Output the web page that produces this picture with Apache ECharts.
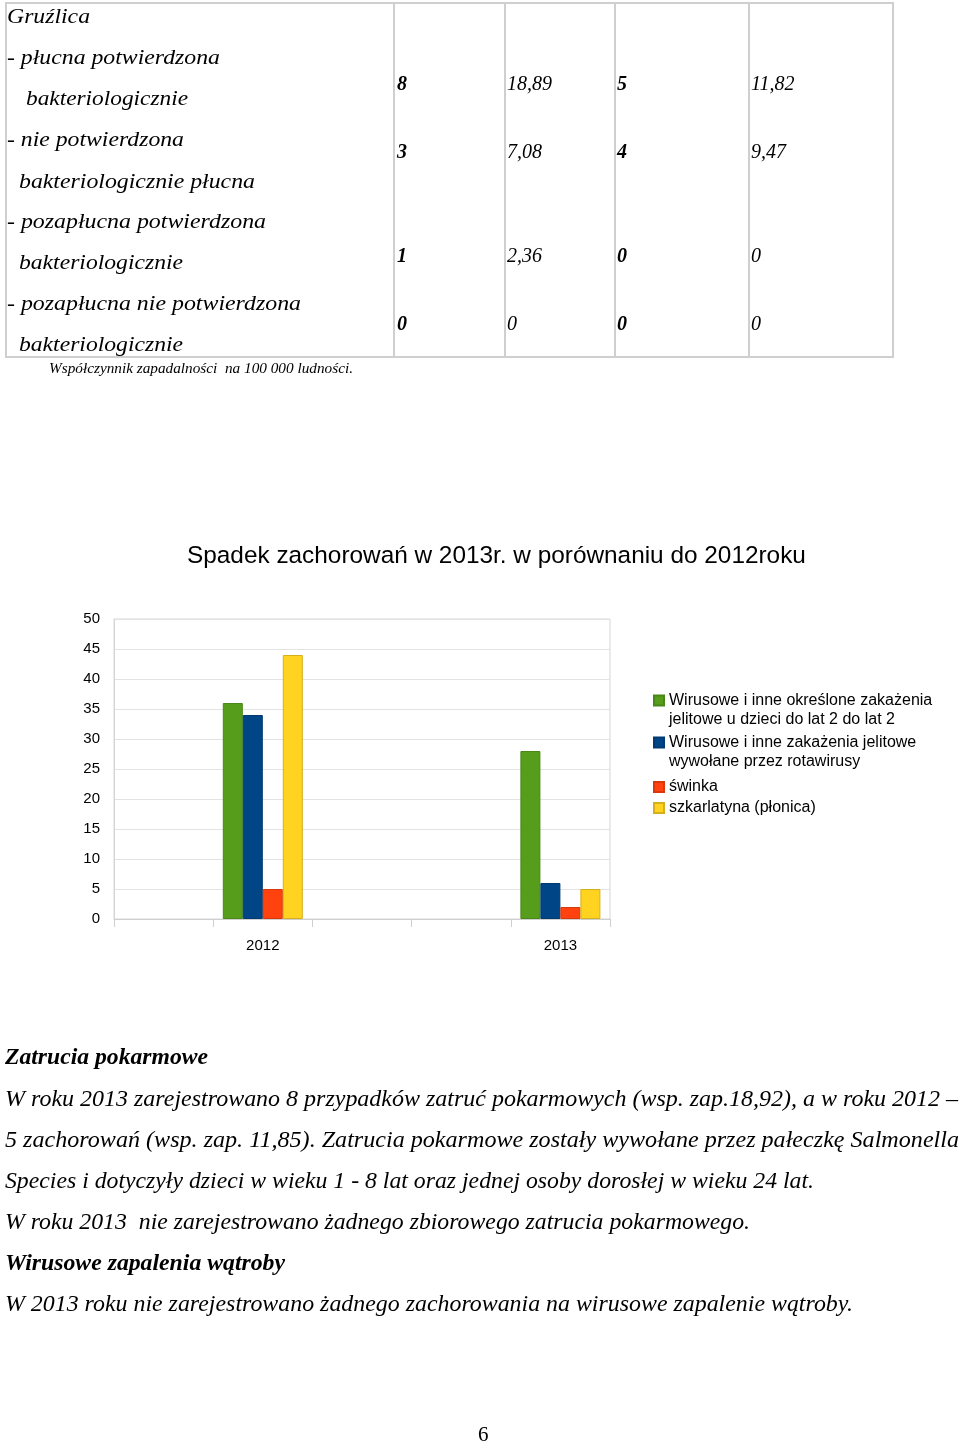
<!DOCTYPE html>
<html>
<head>
<meta charset="utf-8">
<script src="https://cdn.jsdelivr.net/npm/echarts@6/dist/echarts.min.js"></script>
<style>
  html, body { margin: 0; padding: 0; background: #ffffff; }
  #page { position: relative; width: 960px; height: 1444px; overflow: hidden; background: #fff; }
  #chart { position: absolute; left: 0; top: 0; width: 960px; height: 1444px; z-index: 0; }
  .t { position: absolute; white-space: pre; font-family: "Liberation Serif", "Times New Roman", serif;
       font-style: italic; color: #000; transform-origin: 0 0; z-index: 2; }
  .b { font-weight: bold; }
  .rule { position: absolute; background: #cfcfcf; z-index: 2; }
</style>
</head>
<body>
<div id="page">
  <div id="chart"></div>
</div>
<script>
// ---------------- DATA ----------------
// Tuberculosis table
const tbLabelLines = ['Gruźlica', '- płucna potwierdzona', 'bakteriologicznie', '- nie potwierdzona',
  'bakteriologicznie płucna', '- pozapłucna potwierdzona', 'bakteriologicznie',
  '- pozapłucna nie potwierdzona', 'bakteriologicznie'];
const tbCases2013 = ['8', '3', '1', '0'];
const tbRate2013 = ['18,89', '7,08', '2,36', '0'];
const tbCases2012 = ['5', '4', '0', '0'];
const tbRate2012 = ['11,82', '9,47', '0', '0'];
const tbNote = 'Współczynnik zapadalności  na 100 000 ludności.';

// Chart
const chartTitle = 'Spadek zachorowań w 2013r. w porównaniu do 2012roku';
const categories = ['', '2012', '', '', '2013'];
const seriesNames = [
  'Wirusowe i inne określone zakażenia jelitowe u dzieci do lat 2 do lat 2',
  'Wirusowe i inne zakażenia jelitowe wywołane przez rotawirusy',
  'świnka',
  'szkarlatyna (płonica)'
];
const valuesIntestinal = [null, 36, null, null, 28];
const valuesRotavirus = [null, 34, null, null, 6];
const valuesMumps = [null, 5, null, null, 2];
const valuesScarlet = [null, 44, null, null, 5];
const yMin = 0, yMax = 50, yStep = 5;

// Text below chart
const paragraphs = [
  { text: 'Zatrucia pokarmowe', bold: true },
  { text: 'W roku 2013 zarejestrowano 8 przypadków zatruć pokarmowych (wsp. zap.18,92), a w roku 2012 –', bold: false },
  { text: '5 zachorowań (wsp. zap. 11,85). Zatrucia pokarmowe zostały wywołane przez pałeczkę Salmonella', bold: false },
  { text: 'Species i dotyczyły dzieci w wieku 1 - 8 lat oraz jednej osoby dorosłej w wieku 24 lat.', bold: false },
  { text: 'W roku 2013  nie zarejestrowano żadnego zbiorowego zatrucia pokarmowego.', bold: false },
  { text: 'Wirusowe zapalenia wątroby', bold: true },
  { text: 'W 2013 roku nie zarejestrowano żadnego zachorowania na wirusowe zapalenie wątroby.', bold: false }
];
const pageNumber = '6';

// ---------------- LAYOUT (positions / styles) ----------------
const page = document.getElementById('page');
function addText(txt, x, yc, fs, opts) {
  opts = opts || {};
  const d = document.createElement('div');
  d.className = 't' + (opts.bold ? ' b' : '');
  d.textContent = txt;
  const lh = Math.round(fs * 1.2);
  d.style.fontSize = fs + 'px';
  d.style.lineHeight = lh + 'px';
  if (opts.upright) d.style.fontStyle = 'normal';
  d.style.left = x + 'px';
  d.style.top = (yc - fs * (opts.k || 0.63)) + 'px';
  if (opts.w) d.dataset.w = opts.w;
  page.appendChild(d);
  return d;
}
function addRule(x, y, w, h) {
  const r = document.createElement('div');
  r.className = 'rule';
  r.style.left = x + 'px'; r.style.top = y + 'px';
  r.style.width = w + 'px'; r.style.height = h + 'px';
  page.appendChild(r);
}
// table frame
const tTop = 2, tBot = 357, tLeft = 5, tRight = 893;
addRule(tLeft, tTop, tRight - tLeft, 2);
addRule(tLeft, tBot - 1, tRight - tLeft, 2);
[tLeft, 393, 504, 614, 748, tRight - 1].forEach(x => addRule(x, tTop, 2, tBot - tTop + 1));

const labX = [7, 7, 26, 7, 19, 7, 19, 7, 19];
const labW = [83, 213, 162, 177, 236, 259, 164, 294, 164];
const labY = [17, 58, 99, 140, 182, 222, 263, 304, 345];
tbLabelLines.forEach((s, i) => addText(s, labX[i], labY[i], 22, { w: labW[i] }));
const rowY = [83, 151, 255, 323];
const colX = [397, 507, 617, 751];
[tbCases2013, tbRate2013, tbCases2012, tbRate2012].forEach((col, c) => {
  col.forEach((v, r) => addText(v, colX[c], rowY[r], 20, { bold: c % 2 === 0, k: 0.6 }));
});
addText(tbNote, 49, 368, 15, { w: 304 });

const parY = [1057, 1099, 1140, 1181, 1222, 1263, 1304];
const parW = [203, 953, 954, 809, 745, 280, 848];
paragraphs.forEach((p, i) => addText(p.text, 5, parY[i], 24, { bold: p.bold, w: parW[i] }));
addText(pageNumber, 478, 1435, 21, { upright: true, k: 0.6 });

document.querySelectorAll('[data-w]').forEach(el => {
  const w = el.getBoundingClientRect().width;
  el.style.transform = 'scaleX(' + (parseFloat(el.dataset.w) / w).toFixed(4) + ')';
});

// ---------------- CHART ----------------
const sansFont = "'Liberation Sans', Arial, sans-serif";
const ctx = document.createElement('canvas').getContext('2d');
ctx.font = "26px 'Liberation Sans'";
const titleSize = Math.min(28, 26 * 619 / ctx.measureText(chartTitle).width);

const colors = ['#579d1c', '#004586', '#ff420e', '#ffd320'];
const borders = ['#4a8618', '#003a70', '#d9380c', '#d6b01a'];
const seriesValues = [valuesIntestinal, valuesRotavirus, valuesMumps, valuesScarlet];
// two-line legend entries get a leading empty line so the icon sits beside the first line
const wrap = name => {
  const w = name.replace(' jelitowe u dzieci', '\njelitowe u dzieci').replace(' wywołane', '\nwywołane');
  return w.indexOf('\n') >= 0 ? '\n' + w : w;
};
const legendCenters = [700.5, 742.5, 787, 808];
const legendLH = 19;

const chart = echarts.init(document.getElementById('chart'), null, { renderer: 'canvas' });
chart.setOption({
  animation: false,
  backgroundColor: '#ffffff',
  title: {
    text: chartTitle,
    left: 187,
    top: 556 - titleSize / 2,
    padding: 0,
    textStyle: { fontFamily: sansFont, fontSize: titleSize, fontWeight: 'normal', color: '#000' }
  },
  legend: seriesNames.map((name, i) => {
    const two = wrap(name).indexOf('\n') >= 0;
    return {
      data: [name],
      left: 653,
      top: legendCenters[i] - (two ? legendLH * 1.5 : legendLH / 2),
      orient: 'vertical',
      padding: 0,
      itemWidth: 10,
      itemHeight: 10,
      icon: 'rect',
      selectedMode: false,
      formatter: wrap,
      textStyle: { fontFamily: sansFont, fontSize: 16, color: '#000', lineHeight: legendLH }
    };
  }),
  grid: {
    left: 114, top: 619, width: 496, height: 300,
    outerBoundsMode: 'none',
    show: true, borderColor: '#d6d6d6', borderWidth: 1, backgroundColor: 'transparent'
  },
  xAxis: {
    type: 'category',
    data: categories,
    axisLine: { show: true, lineStyle: { color: '#cfcfcf', width: 1 } },
    axisTick: { show: true, length: 8, interval: 0, lineStyle: { color: '#cfcfcf' } },
    axisLabel: { interval: 0, margin: 19, fontFamily: sansFont, fontSize: 15, color: '#000' },
    splitLine: { show: false }
  },
  yAxis: {
    type: 'value',
    min: yMin, max: yMax, interval: yStep,
    axisLine: { show: true, lineStyle: { color: '#d6d6d6' } },
    axisTick: { show: false },
    axisLabel: { margin: 14, fontFamily: sansFont, fontSize: 15, color: '#000' },
    splitLine: { show: true, lineStyle: { color: '#e3e3e3', width: 1 } }
  },
  series: seriesValues.map((vals, i) => ({
    name: seriesNames[i],
    type: 'bar',
    data: vals,
    barWidth: 20,
    barGap: '0%',
    itemStyle: { color: colors[i], borderColor: borders[i], borderWidth: 1 }
  }))
});
</script>
</body>
</html>
